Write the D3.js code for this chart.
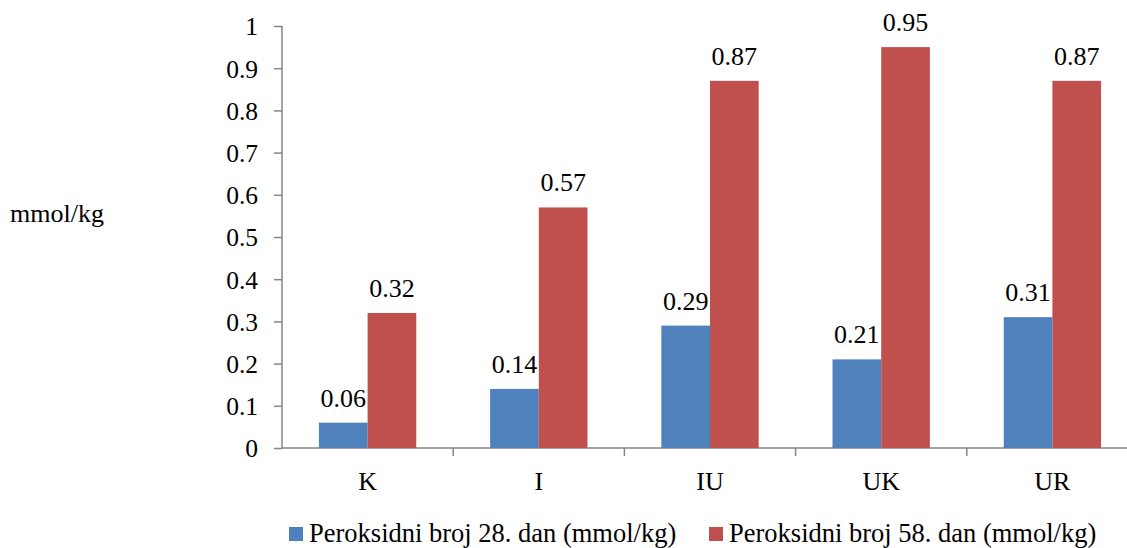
<!DOCTYPE html>
<html>
<head>
<meta charset="utf-8">
<script src="https://cdn.jsdelivr.net/npm/d3@7"></script>
<style>
  html, body { margin: 0; padding: 0; background: #fff; }
  svg { display: block; }
  svg text { font-family: "Liberation Serif", "Times New Roman", serif; fill: #000; }
</style>
</head>
<body>
<svg id="chart" width="1127" height="548"></svg>
<script>
// Peroxide values per sample group
const categories = ["K", "I", "IU", "UK", "UR"];
const day28 = [0.06, 0.14, 0.29, 0.21, 0.31];
const day58 = [0.32, 0.57, 0.87, 0.95, 0.87];
const seriesNames = ["Peroksidni broj 28. dan (mmol/kg)", "Peroksidni broj 58. dan (mmol/kg)"];
const seriesColors = ["#4F81BD", "#C0504D"];
const yTicks = [0, 0.1, 0.2, 0.3, 0.4, 0.5, 0.6, 0.7, 0.8, 0.9, 1];

const svg = d3.select("#chart");
const axisColor = "#868686";

const x0 = 282, x1 = 1138, yTop = 26, yBottom = 448;

const x = d3.scaleBand().domain(categories).range([x0, x1]).paddingInner(0).paddingOuter(0);
const xs = d3.scaleBand().domain([0, 1]).range([0, x.bandwidth()]).paddingOuter(0.7586).paddingInner(0);
const y = d3.scaleLinear().domain([0, 1]).range([yBottom, yTop]);

// Y axis
const yAxis = svg.append("g").attr("transform", `translate(${x0},0)`)
  .call(d3.axisLeft(y).tickValues(yTicks).tickSize(8).tickPadding(16).tickFormat(d => String(+d.toFixed(1))));
yAxis.attr("font-family", null).attr("font-size", null);
yAxis.select(".domain").attr("stroke", axisColor).attr("stroke-width", 1.5).attr("d", `M0,${yTop}V${yBottom}`);
yAxis.selectAll(".tick line").attr("stroke", axisColor).attr("stroke-width", 1.5);
yAxis.selectAll(".tick text").style("font-size", "25.5px").attr("dy", "0.35em");

// X axis
const xAxis = svg.append("g").attr("transform", `translate(0,${yBottom})`);
xAxis.append("line").attr("x1", x0).attr("x2", x1).attr("stroke", axisColor).attr("stroke-width", 1.5);
xAxis.selectAll("line.tk").data(categories).join("line").attr("class", "tk")
  .attr("x1", d => x(d) + x.bandwidth())
  .attr("x2", d => x(d) + x.bandwidth())
  .attr("y1", 0).attr("y2", 8).attr("stroke", axisColor).attr("stroke-width", 1.5);
xAxis.selectAll("text").data(categories).join("text")
  .attr("x", d => x(d) + x.bandwidth() / 2).attr("y", 42)
  .attr("text-anchor", "middle").style("font-size", "26px").text(d => d);

// Bars and value labels
const series = [day28, day58];
series.forEach((vals, si) => {
  const g = svg.append("g");
  g.selectAll("rect").data(vals).join("rect")
    .attr("x", (d, i) => x(categories[i]) + xs(si))
    .attr("width", xs.bandwidth())
    .attr("y", d => y(d))
    .attr("height", d => y(0) - y(d))
    .attr("fill", seriesColors[si]);
  g.selectAll("text").data(vals).join("text")
    .attr("x", (d, i) => x(categories[i]) + xs(si) + xs.bandwidth() / 2)
    .attr("y", d => y(d) - 16)
    .attr("text-anchor", "middle").style("font-size", "26px")
    .text(d => d.toFixed(2));
});

// Axis title
svg.append("text").attr("x", 10).attr("y", 222).style("font-size", "26px").text("mmol/kg");

// Legend
const legendX = [289, 709];
seriesNames.forEach((name, i) => {
  const lg = svg.append("g").attr("transform", `translate(${legendX[i]},527)`);
  lg.append("rect").attr("width", 14).attr("height", 14).attr("fill", seriesColors[i]);
  lg.append("text").attr("x", 20).attr("y", 15).style("font-size", "26.5px").text(name);
});
</script>
</body>
</html>
